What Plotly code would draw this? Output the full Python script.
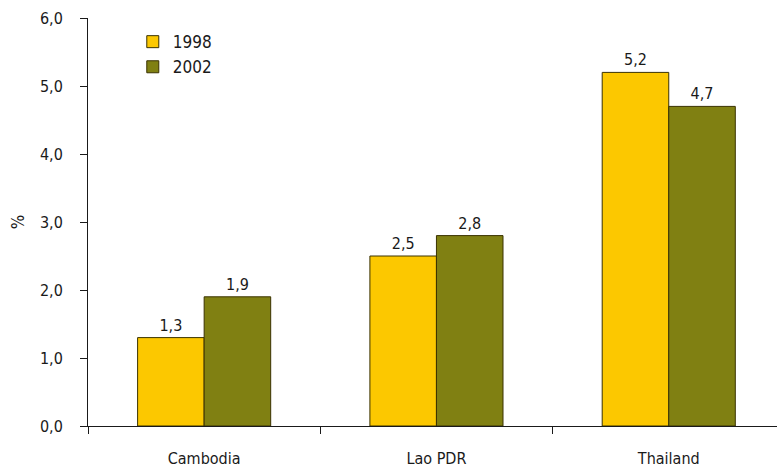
import plotly.graph_objects as go

categories = ["Cambodia", "Lao PDR", "Thailand"]
series_names = ["1998", "2002"]
values_1998 = [1.3, 2.5, 5.2]
values_2002 = [1.9, 2.8, 4.7]
colors = ["#FCC800", "#808012"]

FONT = "DejaVu Sans Condensed, Liberation Sans Narrow, sans-serif"

fig = go.Figure()
for name, vals, col in zip(series_names, [values_1998, values_2002], colors):
    fig.add_trace(go.Bar(
        x=categories, y=vals, name=name,
        marker=dict(color=col, line=dict(color="#3a3200", width=1)),
        text=vals, texttemplate="%{y:.1f}", textposition="outside",
        textfont=dict(size=16, color="#1a1a1a", family=FONT),
        cliponaxis=False,
    ))

fig.update_layout(
    width=779, height=469,
    margin=dict(l=88, r=2, t=18, b=43),
    paper_bgcolor="white", plot_bgcolor="white",
    barmode="group", bargap=0.427, bargroupgap=0,
    separators=",.",
    font=dict(family=FONT, size=16, color="#1a1a1a"),
    showlegend=True,
    legend=dict(x=0.065, y=0.985, xanchor="left", yanchor="top",
                bgcolor="rgba(0,0,0,0)", font=dict(size=17),
                itemwidth=30, tracegroupgap=8),
)
fig.update_xaxes(
    range=[-0.5, 2.466], showline=True, linecolor="#1a1a1a", linewidth=1,
    ticks="outside", tickson="boundaries", ticklen=7, tickcolor="#1a1a1a",
    showgrid=False, tickfont=dict(size=16), ticklabelstandoff=18,
)
fig.update_yaxes(
    range=[0, 6], dtick=1, tickformat=".1f", showline=True, linecolor="#1a1a1a",
    linewidth=1, ticks="outside", ticklen=7, tickcolor="#1a1a1a",
    showgrid=False, zeroline=False, tickfont=dict(size=16), ticklabelstandoff=14,
    title=dict(text="%", font=dict(size=17), standoff=10),
)

fig.write_html("out.html")
